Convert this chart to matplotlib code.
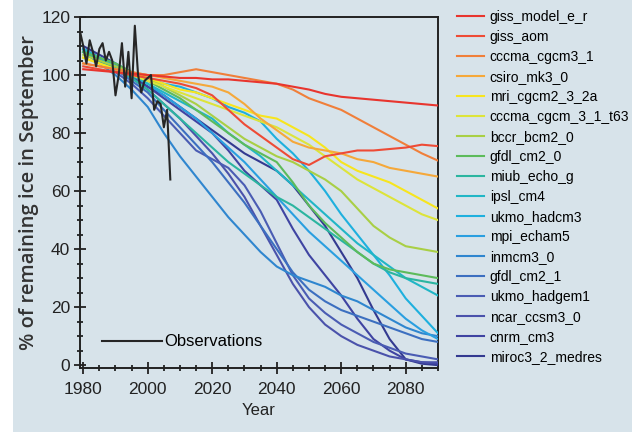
import matplotlib.pyplot as plt
from matplotlib.patches import Rectangle

# model runs, % of remaining September ice, every 5 years 1980-2090
years = list(range(1980, 2091, 5))

model_names = ["giss_model_e_r", "giss_aom", "cccma_cgcm3_1", "csiro_mk3_0",
               "mri_cgcm2_3_2a", "cccma_cgcm_3_1_t63", "bccr_bcm2_0", "gfdl_cm2_0",
               "miub_echo_g", "ipsl_cm4", "ukmo_hadcm3", "mpi_echam5", "inmcm3_0",
               "gfdl_cm2_1", "ukmo_hadgem1", "ncar_ccsm3_0", "cnrm_cm3", "miroc3_2_medres"]

model_colors = ["#e8352e", "#ee4b36", "#f07f3a", "#f5a83a", "#f7e51e", "#dde43a",
                "#a9cf45", "#5dbb5b", "#2bb5a0", "#21b6c6", "#1eb0de", "#2a9fe0",
                "#2f86cf", "#3c6fc0", "#4a5cb3", "#4a52ab", "#3f44a2", "#333a90"]

giss_model_e_r = [102, 101.5, 101, 100.5, 100, 99.5, 99, 99, 98.5, 98.5, 98, 97.5, 97, 96, 95, 93.5, 92.5, 92, 91.5, 91, 90.5, 90, 89.5]
giss_aom = [103, 102, 101, 100, 99, 98, 97, 95.5, 93, 88, 83, 79, 75, 71, 69, 72, 73, 74, 74, 74.5, 75, 76, 75.5]
cccma_cgcm3_1 = [104, 103, 102, 101, 100, 100, 101, 102, 101, 100, 99, 98, 97, 95, 92, 90, 88, 85, 82, 79, 76, 73, 70.5]
csiro_mk3_0 = [104, 103, 102, 101, 100, 99, 98, 97, 96, 94, 90, 85, 81, 77, 75, 74, 73, 71, 70, 68, 67, 66, 65]
mri_cgcm2_3_2a = [106, 104, 102, 101, 99, 97, 95, 94, 92, 90, 88, 86, 85, 82, 79, 75, 70, 67, 65, 63, 60, 57, 54]
cccma_cgcm_3_1_t63 = [106, 104, 102, 100, 98, 96, 94, 92, 90, 88, 86, 84, 82, 79, 76, 72, 68, 64, 61, 58, 55, 52, 50]
bccr_bcm2_0 = [107, 105, 103, 101, 99, 96, 93, 90, 86, 82, 78, 75, 72, 70, 67, 64, 60, 54, 48, 44, 41, 40, 39]
gfdl_cm2_0 = [108, 106, 104, 101, 98, 95, 92, 88, 84, 80, 76, 73, 70, 63, 55, 49, 44, 39, 35, 33, 32, 31, 30]
miub_echo_g = [108, 105, 102, 99, 95, 90, 85, 80, 75, 70, 66, 62, 58, 55, 51, 47, 43, 39, 35, 32, 30, 29, 28]
ipsl_cm4 = [109, 106, 103, 100, 97, 94, 91, 88, 85, 80, 76, 72, 67, 62, 57, 52, 47, 42, 38, 34, 30, 27, 24]
ukmo_hadcm3 = [108, 106, 104, 101, 99, 97, 96, 94, 92, 89, 87, 84, 78, 73, 67, 60, 52, 45, 38, 31, 23, 17, 11]
mpi_echam5 = [109, 106, 103, 100, 97, 93, 89, 85, 80, 75, 70, 64, 58, 52, 46, 41, 36, 31, 26, 21, 16, 12, 9]
inmcm3_0 = [108, 104, 100, 95, 89, 80, 72, 65, 58, 51, 45, 39, 34, 31, 29, 27, 24, 22, 19, 16, 13, 11, 10]
gfdl_cm2_1 = [109, 106, 102, 98, 94, 88, 82, 76, 70, 63, 56, 48, 40, 32, 26, 22, 19, 17, 15, 13, 11, 9, 8]
ukmo_hadgem1 = [108, 105, 101, 97, 92, 86, 80, 74, 71, 68, 62, 53, 42, 31, 23, 18, 14, 11, 8, 6, 4, 3, 2]
ncar_ccsm3_0 = [109, 106, 103, 99, 95, 90, 85, 79, 73, 66, 58, 48, 38, 28, 20, 14, 10, 7, 5, 3, 2, 1, 1]
cnrm_cm3 = [108, 105, 102, 99, 96, 92, 88, 84, 80, 74, 67, 62, 57, 47, 38, 31, 24, 16, 9, 5, 2, 1, 0.5]
miroc3_2_medres = [110, 107, 104, 100, 96, 93, 89, 85, 81, 77, 73, 70, 67, 62, 55, 48, 39, 30, 19, 9, 2, 0.5, 0]

model_values = [giss_model_e_r, giss_aom, cccma_cgcm3_1, csiro_mk3_0, mri_cgcm2_3_2a,
                cccma_cgcm_3_1_t63, bccr_bcm2_0, gfdl_cm2_0, miub_echo_g, ipsl_cm4,
                ukmo_hadcm3, mpi_echam5, inmcm3_0, gfdl_cm2_1, ukmo_hadgem1,
                ncar_ccsm3_0, cnrm_cm3, miroc3_2_medres]

# observed September ice, 1979-2007
obs_years = list(range(1979, 2008))
obs_values = [115, 110, 104, 112, 108, 103, 109, 111, 105, 108, 105, 93, 100, 111, 96,
              108, 92, 117, 100, 94, 98, 99, 100, 88, 91, 90, 82, 88, 64]

BG = "#d7e3ea"
TXT = ["Liberation Sans", "DejaVu Sans"]

fig = plt.figure(figsize=(6.32, 4.32), dpi=100, facecolor=BG)
ax = fig.add_axes([0.1266, 0.148, 0.5664, 0.8126])
ax.set_facecolor(BG)

# white scan edge on the left
fig.patches.append(Rectangle((0, 0), 13 / 632, 1, transform=fig.transFigure,
                             facecolor="white", edgecolor="none"))

handles = []
for name, vals, col in zip(model_names, model_values, model_colors):
    line, = ax.plot(years, vals, color=col, lw=1.5, label=name)
    handles.append(line)
# reds sit on top
for i, h in enumerate(handles):
    h.set_zorder(3 + len(handles) - i)

obs_line, = ax.plot(obs_years, obs_values, color="#262626", lw=1.5, zorder=30,
                    label="Observations")

ax.set_xlim(1979, 2090)
ax.set_ylim(-1, 120)
ax.set_xticks([1980, 2000, 2020, 2040, 2060, 2080])
ax.set_xticks(range(1980, 2091, 5), minor=True)
ax.set_yticks([0, 20, 40, 60, 80, 100, 120])
ax.set_yticks(range(0, 121, 5), minor=True)
ax.tick_params(which="major", direction="inout", length=8, width=1.3,
               labelsize=12.5, colors="#222222")
ax.tick_params(axis="x", which="major", pad=6)
ax.tick_params(axis="y", which="major", pad=3)
ax.tick_params(which="minor", direction="inout", length=5, width=1.1)
for lab in ax.get_xticklabels() + ax.get_yticklabels():
    lab.set_family(TXT)

for side in ["top", "right", "left", "bottom"]:
    ax.spines[side].set_linewidth(1.4)
    ax.spines[side].set_color("#222222")

ax.set_xlabel("Year", fontsize=12, family=TXT, color="#222222", labelpad=4)
ax.set_ylabel("% of remaining ice in September", fontsize=14.5,
              family=["Open Sans", "DejaVu Sans"], fontweight="semibold",
              color="#333333", labelpad=2)

# observations key inside the plot
obs_leg = ax.legend(handles=[obs_line], loc="lower left", bbox_to_anchor=(0.03, 0.02),
                    frameon=False, handlelength=3.6, handletextpad=0.1, borderpad=0.2,
                    prop={"family": TXT, "size": 12})
obs_leg.set_zorder(40)

# model key to the right
fig.legend(handles=handles, loc="upper left", bbox_to_anchor=(0.708, 1.0),
           frameon=False, handlelength=1.9, handletextpad=0.45, labelspacing=0.434,
           borderaxespad=0.3, prop={"family": TXT, "size": 10})

fig.savefig("out.png", dpi=100, facecolor=BG)
